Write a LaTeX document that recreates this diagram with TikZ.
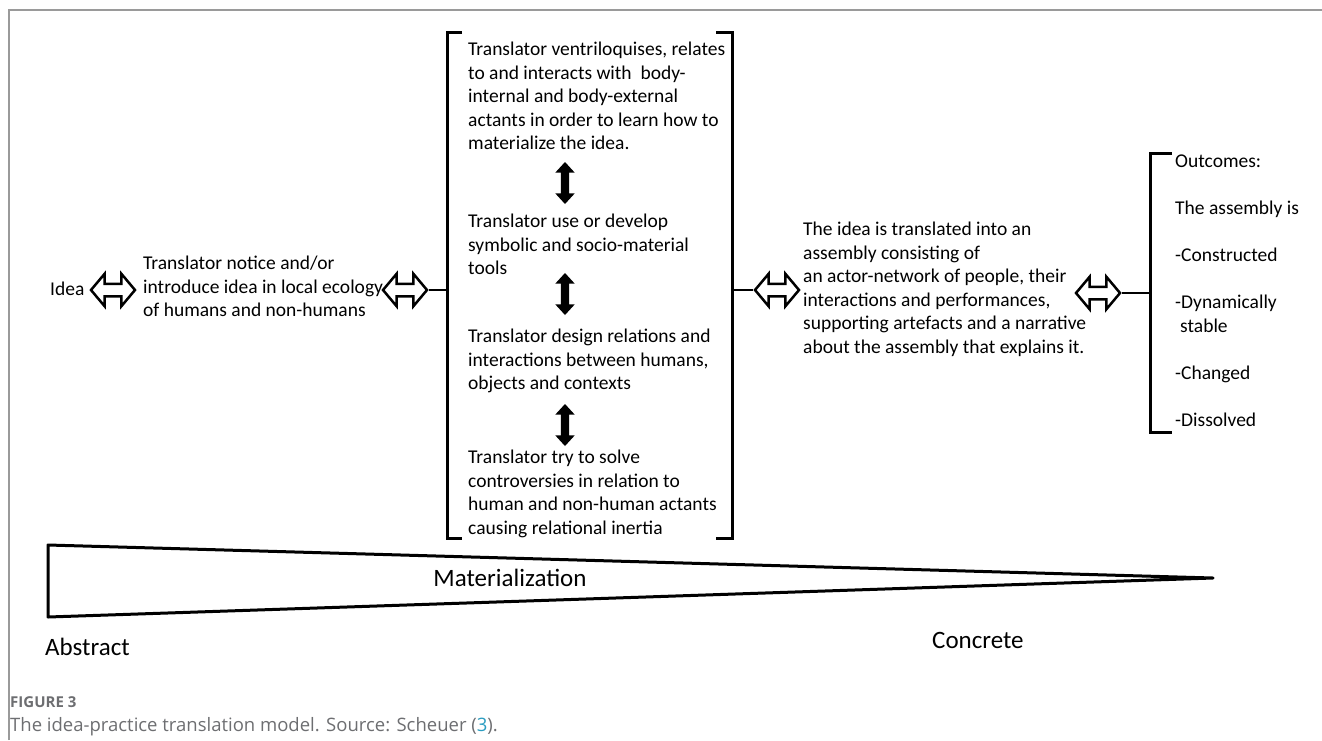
\documentclass[tikz,border=0pt]{standalone}
\usepackage{fontspec}
\setmainfont{Carlito}
\newfontfamily\capfont{Open Sans}
\usetikzlibrary{shapes.arrows, positioning}

\definecolor{framegray}{HTML}{9A9A9A}
\definecolor{capgray}{HTML}{6D6E71}
\definecolor{refteal}{HTML}{2A9CC0}

\begin{document}
\begin{tikzpicture}[x=1pt, y=-1pt,
    txt/.style={font=\fontsize{19.5}{23.5}\selectfont, align=left, inner sep=0pt, anchor=north west},
    bigtxt/.style={font=\fontsize{25}{30}\selectfont, inner sep=0pt},
    hollow/.style={double arrow, draw=black, fill=white, line width=2.5pt, minimum height=44pt, minimum width=30pt, inner xsep=0pt, inner ysep=5pt, double arrow head extend=10pt, double arrow tip angle=100},
    updown/.style={double arrow, fill=black, rotate=90, minimum height=42pt, minimum width=19pt, inner xsep=0pt, inner ysep=4pt, double arrow head extend=5.5pt, double arrow tip angle=85},
    bracket/.style={line width=3pt},
    link/.style={line width=2.5pt},
    wedge/.style={line width=3pt, line join=round}
]
    \useasboundingbox (0,0) rectangle (1322,740);

    % Frame of the figure
    \draw[framegray, line width=1.2pt] (9,740) -- (9,10) -- (1322,10);

    % Left part: idea and first translation step
    \node[txt, anchor=base west] (idea) at (50,295) {Idea};
    \node[hollow] (arrA) at (113,290) {};
    \node[txt] (notice) at (143,256) {Translator notice and/or\\introduce idea in local ecology\\of humans and non-humans};
    \node[hollow] (arrB) at (405,290) {};

    % Bracketed column of translator work
    \coordinate (brA) at (447,290);
    \coordinate (brB) at (732,290);
    \draw[bracket] (462,32) -- (447,32) -- (447,538) -- (462,538);
    \draw[bracket] (716,32) -- (732,32) -- (732,538) -- (716,538);
    \draw[link] (arrB.east) -- (brA);

    \node[txt] (ventri) at (468,42) {Translator ventriloquises, relates\\to and interacts with\ \ body-\\internal and body-external\\actants in order to learn how to\\materialize the idea.};
    \node[updown] (vA) at (565,183) {};
    \node[txt] (tools) at (468,214) {Translator use or develop\\symbolic and socio-material\\tools};
    \node[updown] (vB) at (565,294) {};
    \node[txt] (design) at (468,329) {Translator design relations and\\interactions between humans,\\objects and contexts};
    \node[updown] (vC) at (565,425) {};
    \node[txt] (solve) at (468,450) {Translator try to solve\\controversies in relation to\\human and non-human actants\\causing relational inertia};

    % Assembly
    \node[hollow] (arrC) at (777,290) {};
    \draw[link] (brB) -- (arrC.west);
    \node[txt] (assembly) at (803,222) {The idea is translated into an\\assembly consisting of\\an actor-network of people, their\\interactions and performances,\\supporting artefacts and a narrative\\about the assembly that explains it.};
    \node[hollow] (arrD) at (1098,293) {};

    % Outcomes
    \coordinate (brC) at (1150,293);
    \draw[bracket] (1172,153) -- (1150,153) -- (1150,432) -- (1172,432);
    \draw[link] (arrD.east) -- (brC);
    \node[txt] (outcomes) at (1175,155) {Outcomes:\\[23.5pt]The assembly is\\[23.5pt]-Constructed\\[23.5pt]-Dynamically\\\hspace{5pt}stable\\[23.5pt]-Changed\\[23.5pt]-Dissolved};

    % Materialization wedge
    \draw[wedge] (48,545) -- (1213,578) -- (48,617) -- cycle;
    \node[bigtxt] (mat) at (510,578) {Materialization};
    \node[bigtxt, anchor=west] (abstract) at (45,647) {Abstract};
    \node[bigtxt, anchor=west] (concrete) at (932,640) {Concrete};

    % Caption
    \node[anchor=west, inner sep=0pt, text=capgray, font=\capfont\bfseries\fontsize{15}{18}\selectfont] (fig) at (10,702) {FIGURE 3};
    \node[anchor=west, inner sep=0pt, text=capgray, font=\capfont\fontsize{18.5}{22}\selectfont] (cap) at (10,727) {The idea-practice translation model. Source: Scheuer (\textcolor{refteal}{3}).};
\end{tikzpicture}
\end{document}
